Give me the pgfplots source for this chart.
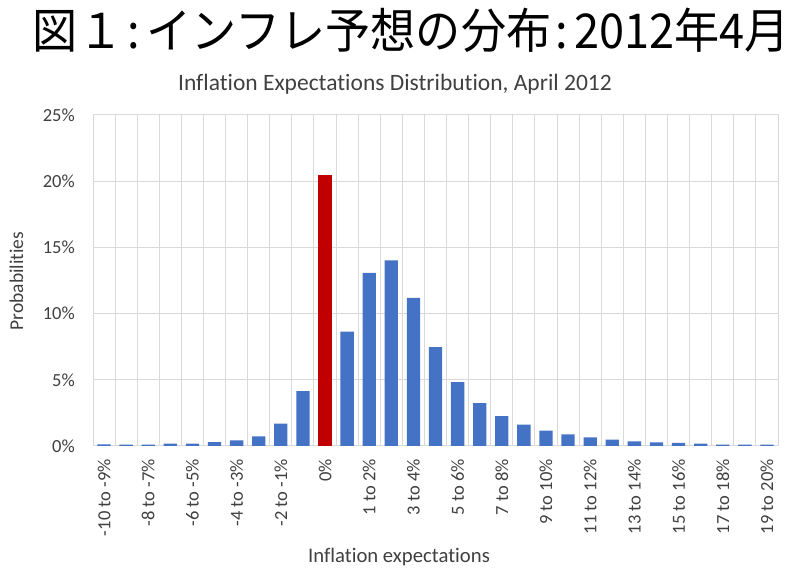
\documentclass[border=0pt]{standalone}
\usepackage{fontspec}
\setmainfont{Carlito}[Ligatures={NoCommon}]
\newfontfamily\cjk{Noto Sans CJK JP}
\usepackage{pgfplots}
\pgfplotsset{compat=1.18}
\definecolor{barblue}{HTML}{4472C4}
\definecolor{barred}{HTML}{C00000}
\definecolor{gridgray}{HTML}{D9D9D9}
\definecolor{txt}{HTML}{404040}
\begin{document}
\begin{tikzpicture}[x=1pt,y=1pt]
\path[use as bounding box] (0,0) rectangle (800,575);
\node[anchor=center] at (411.5,545) {\scalebox{0.94}[1]{\fontsize{48}{50}\selectfont\cjk 図１\hspace{0.1em}:\hspace{0.14em}インフレ予想の分布\hspace{0.1em}:\hspace{0.14em}2012年4月}};
\node[anchor=base,text=txt,inner sep=0pt] at (395,484.3) {\fontsize{23.5}{25}\selectfont Inflation Expectations Distribution, April 2012};
\begin{axis}[
  at={(93pt,129pt)}, anchor=south west,
  scale only axis, width=685pt, height=331pt,
  xmin=-0.5, xmax=30.5, ymin=0, ymax=25,
  ybar, bar width=13.3pt, bar shift=0pt,
  xtick={0,2,...,30},
  xticklabels={-10 to -9\%,-8 to -7\%,-6 to -5\%,-4 to -3\%,-2 to -1\%,0\%,1 to 2\%,3 to 4\%,5 to 6\%,7 to 8\%,9 to 10\%,11 to 12\%,13 to 14\%,15 to 16\%,17 to 18\%,19 to 20\%},
  minor xtick={-0.5,0.5,...,30.5},
  xminorgrids, xmajorgrids=false,
  ytick={0,5,...,25},
  yticklabel={\pgfmathprintnumber{\tick}\%},
  ymajorgrids,
  grid style={gridgray, line width=1pt},
  minor grid style={gridgray, line width=1pt},
  major tick length=0pt, minor tick length=0pt,
  axis line style={gridgray, line width=1pt},
  x tick label style={rotate=90, anchor=east, inner sep=0pt, font=\fontsize{18.5}{20}\selectfont, text=txt},
  xticklabel shift=13pt,
  y tick label style={font=\fontsize{18.5}{20}\selectfont, text=txt, inner sep=0pt},
  yticklabel shift=18pt,
  /pgf/number format/assume math mode=true,
  clip=false,
]
\addplot[fill=barblue, draw=none] coordinates {
(0,0.13) (1,0.10) (2,0.10) (3,0.18) (4,0.18) (5,0.30) (6,0.43) (7,0.73) (8,1.69) (9,4.14)
(11,8.64) (12,13.08) (13,14.02) (14,11.19) (15,7.47) (16,4.82) (17,3.23) (18,2.25) (19,1.62) (20,1.16)
(21,0.88) (22,0.66) (23,0.48) (24,0.35) (25,0.28) (26,0.23) (27,0.18) (28,0.10) (29,0.10) (30,0.10)};
\addplot[fill=barred, draw=none] coordinates {(10,20.5)};
\end{axis}
\node[rotate=90,text=txt,inner sep=0pt] at (16.5,294) {\fontsize{19.5}{21}\selectfont Probabilities};
\node[anchor=base,text=txt,inner sep=0pt] at (399,12) {\fontsize{20.7}{22}\selectfont Inflation expectations};
\end{tikzpicture}
\end{document}
